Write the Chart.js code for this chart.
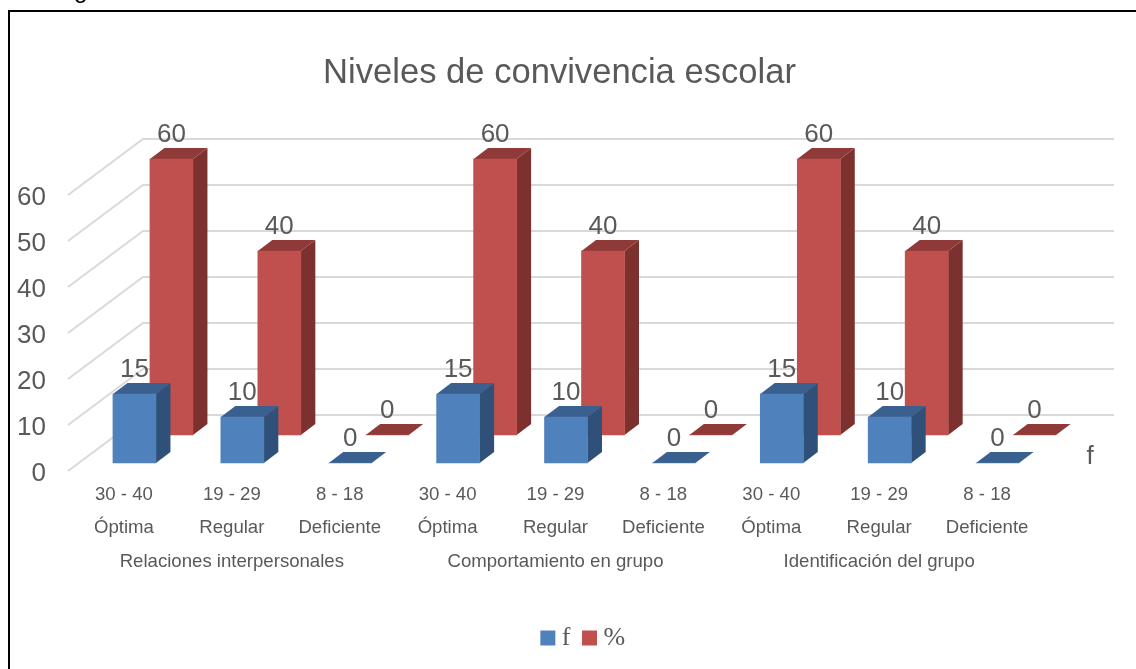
<!DOCTYPE html>
<html lang="es">
<head>
<meta charset="utf-8">
<title>Niveles de convivencia escolar</title>
<script src="https://cdn.jsdelivr.net/npm/chart.js@4"></script>
<style>
    html, body { margin: 0; padding: 0; background: #fff; overflow: hidden; }
    #wrap { position: relative; width: 1136px; height: 669px; overflow: hidden; }
    #caption { position: absolute; left: 54px; top: -24px; font: 24px "Liberation Sans", sans-serif; color: #000; }
    #frame { position: absolute; left: 8px; top: 10px; width: 1200px; height: 700px; border: 2px solid #000; }
    canvas { position: absolute; left: 0; top: 0; }
</style>
</head>
<body>
<div id="wrap">
    <div id="caption">Figura</div>
    <div id="frame"></div>
    <canvas id="chart" width="1136" height="669"></canvas>
</div>
<script>
// datos
const rangos = ['30 - 40', '19 - 29', '8 - 18', '30 - 40', '19 - 29', '8 - 18', '30 - 40', '19 - 29', '8 - 18'];
const niveles = ['Óptima', 'Regular', 'Deficiente', 'Óptima', 'Regular', 'Deficiente', 'Óptima', 'Regular', 'Deficiente'];
const grupos = ['Relaciones interpersonales', 'Comportamiento en grupo', 'Identificación del grupo'];
const valoresF = [15, 10, 0, 15, 10, 0, 15, 10, 0];
const valoresPct = [60, 40, 0, 60, 40, 0, 60, 40, 0];
const serieF = 'f';
const seriePct = '%';

const gris = '#595959';
const sans = '"Liberation Sans", Arial, sans-serif';

// desplazamiento de cada serie en la profundidad y caras de cada barra
const estilo3d = [
    { dx: 10.5, dy: -8, lado: '#2F5179', tapa: '#3A6090' },
    { dx: 47.5, dy: -36, lado: '#7D312F', tapa: '#8F3A38' }
];
const fondoX = 14.5, fondoY = -11;

function poligono(ctx, color, pts) {
    ctx.fillStyle = color;
    ctx.beginPath();
    pts.forEach((p, i) => i ? ctx.lineTo(p[0], p[1]) : ctx.moveTo(p[0], p[1]));
    ctx.closePath();
    ctx.fill();
}

const barras3d = {
    id: 'barras3d',
    afterLayout(chart) {
        // titulo y leyenda no van centrados sobre el area del grafico
        chart.titleBlock.left += 39;
        chart.titleBlock.right += 39;
        chart.legend.left += 65.5;
        chart.legend.right += 65.5;
        chart.legend.top = 607;
        chart.legend.bottom = 669;
    },
    beforeDatasetsDraw(chart) {
        // pared del fondo: lineas de la escala y
        const { ctx, scales: { y }, chartArea } = chart;
        ctx.save();
        ctx.strokeStyle = '#D9D9D9';
        ctx.lineWidth = 2;
        y.ticks.forEach(t => {
            const py = y.getPixelForValue(t.value);
            ctx.beginPath();
            ctx.moveTo(chartArea.left - 2, py);
            ctx.lineTo(chartArea.left + 73, py - 56);
            ctx.lineTo(chartArea.right + 73, py - 56);
            ctx.stroke();
        });
        ctx.restore();
    },
    beforeDatasetDraw(chart, args) {
        const { ctx } = chart;
        const s = estilo3d[args.index];
        ctx.save();
        ctx.translate(s.dx, s.dy);
        args.meta.data.forEach(bar => {
            const r = bar.x + bar.width / 2, l = bar.x - bar.width / 2;
            poligono(ctx, s.lado, [[r, bar.y], [r + fondoX, bar.y + fondoY], [r + fondoX, bar.base + fondoY], [r, bar.base]]);
            poligono(ctx, s.tapa, [[l, bar.y], [l + fondoX, bar.y + fondoY], [r + fondoX, bar.y + fondoY], [r, bar.y]]);
        });
    },
    afterDatasetDraw(chart) {
        chart.ctx.restore();
    },
    afterDatasetsDraw(chart) {
        const { ctx, chartArea } = chart;
        ctx.save();
        ctx.fillStyle = gris;
        ctx.font = '26px ' + sans;
        ctx.textAlign = 'center';
        ctx.textBaseline = 'middle';
        chart.data.datasets.forEach((ds, d) => {
            const s = estilo3d[d];
            chart.getDatasetMeta(d).data.forEach((bar, i) => {
                ctx.fillText(ds.data[i], bar.x + s.dx, bar.y + s.dy + fondoY - 13);
            });
        });
        // rotulo del eje de profundidad
        ctx.fillText(serieF, chartArea.right + 49, chartArea.bottom - 14);
        ctx.restore();
    }
};

new Chart(document.getElementById('chart'), {
    type: 'bar',
    data: {
        labels: rangos.map((r, i) => [r, niveles[i]]),
        datasets: [
            { label: serieF, data: valoresF, backgroundColor: '#4F81BD', grouped: false, barThickness: 43, clip: false, borderWidth: 0 },
            { label: seriePct, data: valoresPct, backgroundColor: '#C0504D', grouped: false, barThickness: 43, clip: false, borderWidth: 0 }
        ]
    },
    plugins: [barras3d],
    options: {
        responsive: false,
        animation: false,
        layout: { padding: { left: 0, right: 95, top: 0, bottom: 36 } },
        plugins: {
            tooltip: { enabled: false },
            title: {
                display: true,
                text: 'Niveles de convivencia escolar',
                color: gris,
                font: { family: sans, size: 34.6, weight: 'normal', lineHeight: 1.2 },
                padding: { top: 53, bottom: 100.5 }
            },
            legend: {
                position: 'bottom',
                labels: {
                    usePointStyle: true,
                    pointStyle: 'rect',
                    boxWidth: 2,
                    boxHeight: 15,
                    padding: 18,
                    color: gris,
                    font: { family: '"Liberation Serif", serif', size: 26 }
                }
            }
        },
        scales: {
            x: {
                weight: 0,
                grid: { display: false, drawTicks: false },
                border: { display: false },
                ticks: {
                    autoSkip: false,
                    maxRotation: 0,
                    padding: 7,
                    color: gris,
                    font: { family: sans, size: 18.6, lineHeight: 1.8 }
                },
                afterFit: s => { s.height = 72; }
            },
            xGrupo: {
                type: 'category',
                labels: grupos,
                position: 'bottom',
                weight: 1,
                grid: { display: false, drawTicks: false },
                border: { display: false },
                ticks: {
                    autoSkip: false,
                    maxRotation: 0,
                    padding: 8,
                    color: gris,
                    font: { family: sans, size: 18.6 }
                },
                afterFit: s => { s.height = 36; }
            },
            y: {
                min: 0,
                max: 60,
                grid: { display: false, drawTicks: false },
                border: { display: false },
                ticks: {
                    stepSize: 10,
                    padding: 24,
                    labelOffset: 3,
                    color: gris,
                    font: { family: sans, size: 26 }
                },
                afterFit: s => { s.width = 70; }
            }
        }
    }
});
</script>
</body>
</html>
